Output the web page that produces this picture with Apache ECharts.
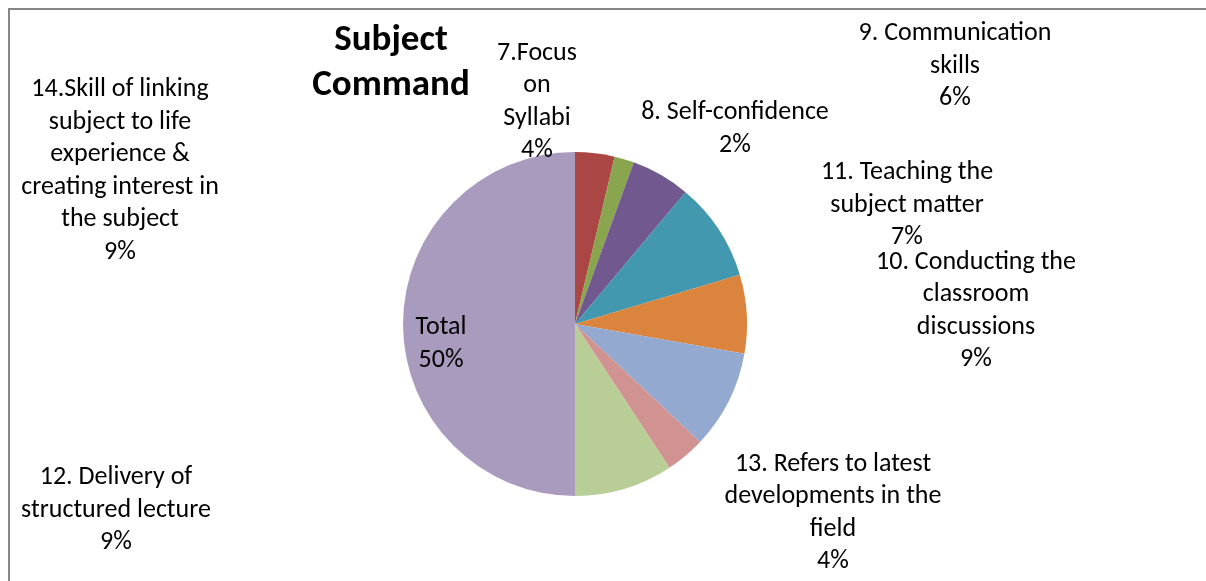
<!DOCTYPE html>
<html>
<head>
<meta charset="utf-8">
<script src="https://cdn.jsdelivr.net/npm/echarts@6/dist/echarts.min.js"></script>
<style>
	html, body { margin: 0; padding: 0; background: #fff; }
	#mychart { width: 1206px; height: 581px; }
</style>
</head>
<body>
<div id="mychart"></div>
<script>
// categories and slice values
var categories = [
	'7.Focus\non\nSyllabi',
	'8. Self-confidence',
	'9. Communication\nskills',
	'10. Conducting the\nclassroom\ndiscussions',
	'11. Teaching the\nsubject matter',
	'12. Delivery of\nstructured lecture',
	'13. Refers to latest\ndevelopments in the\nfield',
	'14.Skill of linking\nsubject to life\nexperience &\ncreating interest in\nthe subject',
	'Total'
];
var values = [2, 1, 3, 5, 4, 5, 2, 5, 27];
var colors = ['#AA4643', '#89A54E', '#71588F', '#4198AF', '#DB843D', '#93A9CF', '#D19392', '#B9CD96', '#A99BBD'];

// where each label block is centred
var labelPos = [
	[537, 102], [735, 129], [955, 66], [976, 311], [907, 205],
	[116, 510], [833, 513], [120, 171], [441, 344]
];

var font = 'Carlito, Lato, "Liberation Sans", sans-serif';

var pieData = [];
for(var i = 0; i < categories.length; i++) {
	pieData.push({
		name: categories[i],
		value: values[i],
		itemStyle: { color: colors[i] }
	});
}

var myChart = echarts.init(document.getElementById('mychart'));
var option = {
	animation: false,
	title: {
		text: 'Subject\nCommand',
		left: 386,
		top: 13,
		textAlign: 'center',
		textStyle: {
			fontFamily: font,
			fontSize: 37,
			fontWeight: 'bold',
			lineHeight: 45,
			color: '#000'
		}
	},
	graphic: [{
		type: 'rect',
		shape: { x: 9, y: 9, width: 1400, height: 800 },
		style: { fill: 'none', stroke: '#878787', lineWidth: 2 },
		silent: true
	}],
	series: [{
		type: 'pie',
		center: [575, 324],
		radius: 172,
		startAngle: 90,
		clockwise: true,
		percentPrecision: 0,
		data: pieData,
		itemStyle: { borderWidth: 0 },
		label: {
			show: true,
			position: 'outside',
			formatter: '{b}\n{d}%',
			fontFamily: font,
			fontSize: 26,
			lineHeight: 32.5,
			color: '#000',
			align: 'center'
		},
		labelLine: { show: false },
		labelLayout: function(params) {
			var p = labelPos[params.dataIndex];
			return {
				x: p[0],
				y: p[1],
				align: 'center',
				verticalAlign: 'middle'
			};
		}
	}]
};
myChart.setOption(option);
</script>
</body>
</html>
